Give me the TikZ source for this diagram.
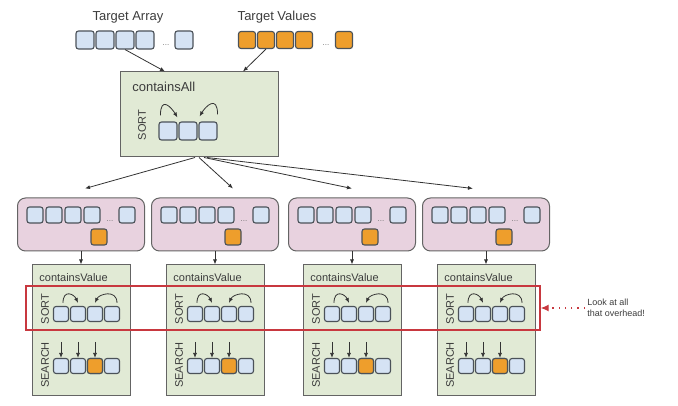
\documentclass[tikz,border=0pt]{standalone}
\usepackage{fontspec}
\setmainfont{Liberation Sans}
\usetikzlibrary{positioning,calc,arrows,arrows.meta}
\definecolor{cellblue}{HTML}{D5E3F4}
\definecolor{cellorange}{HTML}{EE9E2C}
\definecolor{cellline}{HTML}{4B5259}
\definecolor{stagegreen}{HTML}{E1EAD5}
\definecolor{splitpink}{HTML}{E8D2DF}
\definecolor{boxline}{HTML}{646464}
\definecolor{alarm}{HTML}{C8383F}
\definecolor{ink}{HTML}{3C3C3C}
\tikzset{
	cell/.style={draw=cellline, fill=cellblue, rounded corners=2.5pt, line width=1.1pt, minimum size=15pt, inner sep=0pt},
	hit/.style={cell, fill=cellorange},
	stage/.style={draw=boxline, fill=stagegreen, line width=1pt, inner sep=0pt},
	split/.style={draw=boxline, fill=splitpink, line width=1pt, rounded corners=8pt, inner sep=0pt, minimum width=127pt, minimum height=53pt},
	title/.style={text=ink, font=\fontsize{13}{15}\selectfont, inner sep=1pt},
	stagename/.style={text=ink, font=\fontsize{11}{13}\selectfont, inner sep=0pt, anchor=west},
	phase/.style={text=ink, font=\fontsize{11}{13}\selectfont, rotate=90, inner sep=0pt},
	dots/.style={text=black!55, font=\fontsize{8}{9}\selectfont, inner sep=0pt},
	overhead/.style={draw=alarm, line width=1.3pt, inner sep=0pt},
}

\begin{document}
\begin{tikzpicture}[x=1pt, y=-1pt, >={Latex[length=5pt,width=4pt]}, line width=0.8pt, color=black!80]
	\useasboundingbox (0,0) rectangle (678,406);

	% inputs
	\node[title] (tarr) at (128,17) {Target Array};
	\node[title] (tval) at (277,17) {Target Values};
	\foreach \n/\x in {1/85,2/105,3/125,4/145,5/184}
		\node[cell, minimum size=18pt] (a\n) at (\x,40) {};
	\node[dots] (adots) at (166,45) {...};
	\foreach \n/\x in {1/247,2/266,3/285,4/304,5/344}
		\node[hit, minimum size=17pt] (v\n) at (\x,40) {};
	\node[dots] (vdots) at (326,45) {...};

	% containsAll
	\node[stage, minimum width=158pt, minimum height=85pt] (all) at (199,114.5) {};
	\node[stagename, font=\fontsize{13}{15}\selectfont] (alltxt) at (132,87) {containsAll};
	\node[phase] (allsort) at (142,125) {SORT};
	\foreach \n/\x in {1/168,2/188,3/208}
		\node[cell, minimum size=18pt] (c\n) at (\x,131) {};
	\draw[->] ([shift={(2,-6)}]c1.north west) .. controls +(0,-20) and +(-6,-10) .. ([shift={(-1,-4)}]c2.north west);
	\draw[->] ([shift={(0,-7)}]c3.north east) .. controls +(0,-20) and +(6,-10) .. ([shift={(2,-5)}]c2.north east);
	\draw[->] (a3.south) -- ([xshift=-34pt]all.north);
	\draw[->] (v2.south) -- ([xshift=44pt]all.north);

	% one column per split
	\foreach \i/\cx/\sx/\dx in {1/81/-4/4, 2/215/0/18, 3/352/5/0, 4/486/8/-13}{
		\node[split] (p\i) at (\cx,224.5) {};
		\foreach \j/\ox in {1/-46,2/-27,3/-8,4/11,5/46}
			\node[cell, minimum size=16pt] (p\i-\j) at (\cx+\ox,215) {};
		\node[dots] (p\i-dots) at (\cx+29,221) {...};
		\node[hit, minimum size=16pt] (p\i-v) at (\cx+18,237) {};
		\draw[->] ([xshift=\sx pt]all.south) -- ([shift={(\dx,-9)}]p\i.north);

		\node[stage, minimum width=98pt, minimum height=130pt] (g\i) at (\cx,330) {};
		\draw[->] (p\i.south) -- (g\i.north);
		\node[stagename] (g\i-txt) at (\cx-42,278) {containsValue};
		\node[phase] (g\i-sort) at (\cx-36,309) {SORT};
		\node[phase] (g\i-search) at (\cx-36,365) {SEARCH};
		\foreach \j/\ox in {1/-20,2/-3,3/14,4/31}{
			\node[cell] (s\i-\j) at (\cx+\ox,314) {};
			\node[cell] (q\i-\j) at (\cx+\ox,366) {};
		}
		\node[hit] at (q\i-3) {};
		\draw[->] ([shift={(2,-3)}]s\i-1.north) .. controls +(0,-14) and +(-4,-9) .. ([yshift=3pt]s\i-2.north);
		\draw[->] ([shift={(5,-3)}]s\i-4.north) .. controls +(0,-14) and +(4,-9) .. ([yshift=3pt]s\i-3.north);
		\foreach \j in {1,2,3}
			\draw[->] ([yshift=16pt]q\i-\j.north) -- (q\i-\j.north);
	}

	% overhead marker
	\node[overhead, minimum width=514pt, minimum height=44pt] (sortrow) at (283,308) {};
	\node[text=ink, font=\fontsize{9}{10.5}\selectfont, align=left, anchor=west, inner sep=2pt] (note) at (585,308) {Look at all\\that overhead!};
	\draw[alarm, line width=1.3pt, dash pattern=on 1.3pt off 5pt, -{Latex[length=8pt,width=7pt]}] (note.west) -- (sortrow.east);
\end{tikzpicture}
\end{document}
